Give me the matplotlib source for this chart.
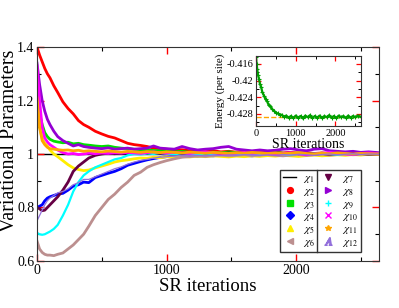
import numpy as np
import matplotlib.pyplot as plt
from matplotlib.lines import Line2D
from matplotlib.ticker import MultipleLocator

plt.rcParams['font.family'] = 'Liberation Serif'
plt.rcParams['mathtext.fontset'] = 'stix'

# SR iteration grid shared by all parameter curves
it = [0, 20, 40, 60, 80, 100, 130, 160, 200, 240, 280, 320, 360, 400,
      450, 500, 550, 600, 650, 700, 750, 800, 850, 900, 950, 1000,
      1060, 1120, 1180, 1240, 1300, 1360, 1420, 1480, 1540, 1600, 1660,
      1720, 1780, 1840, 1900, 1960, 2020, 2080, 2140, 2200, 2260, 2320,
      2380, 2440, 2500, 2560, 2640]

chi2 = [1.40, 1.37, 1.345, 1.32, 1.30, 1.285, 1.255, 1.23, 1.195, 1.17, 1.15, 1.125, 1.11, 1.10,
        1.085, 1.075, 1.066, 1.06, 1.05, 1.04, 1.035, 1.032, 1.028, 1.022, 1.02, 1.018,
        1.015, 1.016, 1.012, 1.013, 1.010, 1.012, 1.008, 1.010, 1.007, 1.009, 1.006,
        1.008, 1.005, 1.007, 1.004, 1.006, 1.003, 1.005, 1.002, 1.004, 1.001, 1.003,
        1.000, 1.002, 0.999, 1.001, 1.000]
chi3 = [1.20, 1.15, 1.11, 1.08, 1.065, 1.055, 1.048, 1.045, 1.042, 1.044, 1.038, 1.040, 1.035, 1.033,
        1.030, 1.028, 1.030, 1.025, 1.022, 1.020, 1.018, 1.016, 1.015, 1.013, 1.012, 1.010,
        1.008, 1.010, 1.006, 1.009, 1.005, 1.007, 1.004, 1.008, 1.005, 1.003, 1.006,
        1.004, 1.002, 1.005, 1.003, 1.001, 1.004, 1.002, 1.000, 1.003, 1.001, 0.999,
        1.002, 1.000, 1.001, 0.999, 1.000]
chi4 = [0.80, 0.805, 0.81, 0.825, 0.835, 0.84, 0.845, 0.85, 0.853, 0.865, 0.88, 0.885, 0.895, 0.893,
        0.912, 0.92, 0.928, 0.935, 0.945, 0.958, 0.965, 0.972, 0.978, 0.983, 0.987, 0.990,
        0.992, 0.990, 0.994, 0.992, 0.995, 0.993, 0.996, 0.994, 0.997, 0.995, 0.993,
        0.996, 0.998, 0.995, 0.997, 0.999, 0.996, 0.998, 1.000, 0.997, 0.999, 1.001,
        0.998, 1.000, 0.999, 1.001, 1.000]
chi5 = [1.26, 1.10, 1.06, 1.04, 1.03, 1.015, 1.00, 0.99, 0.975, 0.96, 0.948, 0.942, 0.938, 0.94,
        0.948, 0.955, 0.962, 0.97, 0.975, 0.978, 0.982, 0.985, 0.984, 0.988, 0.986, 0.990,
        0.988, 0.991, 0.989, 0.992, 0.990, 0.993, 0.991, 0.989, 0.992, 0.990, 0.993,
        0.991, 0.994, 0.992, 0.995, 0.993, 0.991, 0.994, 0.996, 0.993, 0.995, 0.997,
        0.995, 0.998, 0.996, 0.999, 0.998]
chi6 = [0.675, 0.645, 0.632, 0.625, 0.622, 0.622, 0.62, 0.625, 0.63, 0.645, 0.66, 0.68, 0.70, 0.73,
        0.77, 0.80, 0.83, 0.85, 0.875, 0.895, 0.92, 0.932, 0.95, 0.96, 0.968, 0.975,
        0.982, 0.988, 0.990, 0.993, 0.991, 0.994, 0.996, 0.993, 0.995, 0.997, 0.994,
        0.996, 0.998, 0.995, 0.993, 0.996, 0.998, 0.995, 0.997, 0.999, 0.996, 0.998,
        1.000, 0.997, 0.999, 1.000, 0.999]
chi7 = [0.80, 0.795, 0.788, 0.79, 0.80, 0.81, 0.825, 0.84, 0.865, 0.895, 0.935, 0.955, 0.97, 0.985,
        0.995, 1.000, 1.003, 1.001, 1.004, 1.002, 1.005, 1.003, 1.006, 1.004, 1.002, 1.005,
        1.003, 1.006, 1.004, 1.002, 1.005, 1.003, 1.001, 1.004, 1.002, 1.005, 1.003,
        1.001, 1.003, 1.000, 1.002, 1.004, 1.001, 1.003, 1.000, 1.002, 0.999, 1.001,
        1.003, 1.000, 1.002, 0.999, 1.001]
chi8 = [1.34, 1.26, 1.20, 1.16, 1.13, 1.11, 1.085, 1.065, 1.05, 1.04, 1.03, 1.035, 1.028, 1.025,
        1.022, 1.020, 1.023, 1.018, 1.020, 1.022, 1.018, 1.020, 1.022, 1.030, 1.022, 1.020,
        1.018, 1.028, 1.020, 1.015, 1.018, 1.020, 1.025, 1.028, 1.018, 1.015, 1.012,
        1.015, 1.012, 1.014, 1.018, 1.020, 1.015, 1.012, 1.018, 1.020, 1.012, 1.010,
        1.008, 1.010, 1.006, 1.008, 1.005]
chi9 = [0.705, 0.70, 0.698, 0.70, 0.705, 0.71, 0.72, 0.735, 0.77, 0.81, 0.86, 0.895, 0.92, 0.935,
        0.95, 0.96, 0.97, 0.98, 0.985, 0.995, 1.000, 0.998, 1.002, 1.000, 1.004, 1.001,
        0.999, 1.003, 1.001, 0.998, 1.002, 1.000, 1.004, 1.001, 0.999, 1.002, 1.000,
        0.997, 1.001, 1.003, 1.000, 0.998, 1.002, 0.999, 1.001, 1.003, 1.000, 0.998,
        1.001, 0.999, 1.002, 1.000, 1.001]
chi10 = [1.33, 1.20, 1.10, 1.06, 1.045, 1.035, 1.025, 1.015, 1.005, 1.000, 1.002, 0.998, 1.000, 1.003,
         1.001, 1.004, 1.002, 1.005, 1.003, 1.006, 1.004, 1.002, 1.005, 1.008, 1.005, 1.003,
         1.006, 1.004, 1.002, 1.005, 1.008, 1.004, 1.002, 1.000, 1.003, 1.006, 1.002,
         1.004, 1.001, 0.998, 1.002, 1.005, 1.001, 0.997, 1.000, 1.003, 1.006, 1.002,
         1.000, 0.998, 1.002, 1.004, 1.001]
chi11 = [1.21, 1.10, 1.05, 1.035, 1.025, 1.02, 1.018, 1.016, 1.014, 1.015, 1.012, 1.014, 1.010, 1.012,
         1.010, 1.008, 1.011, 1.009, 1.007, 1.010, 1.008, 1.006, 1.009, 1.007, 1.005, 1.008,
         1.006, 1.004, 1.007, 1.005, 1.003, 1.006, 1.004, 1.002, 1.005, 1.003, 1.006,
         1.004, 1.002, 1.004, 1.001, 1.003, 1.005, 1.002, 1.000, 1.003, 1.001, 1.004,
         1.002, 1.000, 1.002, 1.001, 1.000]
chi12 = [0.75, 0.77, 0.79, 0.81, 0.825, 0.835, 0.845, 0.855, 0.86, 0.87, 0.885, 0.893, 0.905, 0.905,
         0.915, 0.925, 0.935, 0.945, 0.952, 0.962, 0.97, 0.976, 0.98, 0.985, 0.988, 0.990,
         0.992, 0.994, 0.992, 0.995, 0.993, 0.996, 0.994, 0.997, 0.995, 0.998, 0.996,
         0.994, 0.997, 0.995, 0.998, 0.996, 0.999, 0.997, 0.995, 0.998, 1.000, 0.997,
         0.999, 1.001, 0.998, 1.000, 0.999]

series = [chi2, chi3, chi4, chi5, chi6, chi7, chi8, chi9, chi10, chi11, chi12]
colors = ['red', '#00e000', 'blue', '#ffee00', '#bc8f8f', '#660044',
          '#9400d3', 'cyan', '#ff00ff', '#ffa500', '#9370db']
markers = ['o', 's', 'D', '^', '<', 'v', '>', '+', 'x', '*', '$A$']
widths = [2.0, 2.0, 2.0, 2.0, 2.0, 2.0, 2.0, 1.6, 2.0, 2.0, 0.9]
labels = [r'$\chi_{%d}$' % k for k in range(1, 13)]

# inset: energy per site vs SR iterations
e_it = [0, 15, 30, 50, 75, 100, 130, 160, 200, 240, 280, 320, 360, 400, 450, 500, 550,
        600, 650, 700, 760, 820, 880, 940, 1000, 1060, 1120, 1180, 1240, 1300, 1360,
        1420, 1480, 1540, 1600, 1660, 1720, 1780, 1840, 1900, 1960, 2020, 2080, 2140,
        2200, 2260, 2320, 2380, 2440, 2500, 2560, 2640]
energy = [-0.4143, -0.4160, -0.4172, -0.4186, -0.4196, -0.4208, -0.4216, -0.4228, -0.4236,
          -0.4245, -0.4250, -0.4259, -0.4262, -0.4268, -0.4272, -0.4277, -0.4279,
          -0.4283, -0.4282, -0.4287, -0.4284, -0.4289, -0.4285, -0.4290, -0.4284,
          -0.4289, -0.4285, -0.4291, -0.4284, -0.4288, -0.4283, -0.4290, -0.4285,
          -0.4289, -0.4284, -0.4290, -0.4285, -0.4288, -0.4283, -0.4289, -0.4285,
          -0.4290, -0.4284, -0.4288, -0.4285, -0.4290, -0.4284, -0.4289, -0.4285,
          -0.4288, -0.4284, -0.4287]
e_exact = -0.4287

fig = plt.figure(figsize=(3.99, 3.08), dpi=100)
ax = fig.add_axes([0.0927, 0.1526, 0.857, 0.6948])

ax.plot([0, 2640], [1.0, 1.0], color='black', lw=1.0, zorder=1)
for y, c, w in zip(series, colors, widths):
    ax.plot(it, y, color=c, lw=w)

ax.set_xlim(0, 2640)
ax.set_ylim(0.6, 1.4)
ax.set_xticks([0, 1000, 2000])
ax.set_xticklabels(['0', '1000', '2000'])
ax.set_yticks([0.6, 0.8, 1.0, 1.2, 1.4])
ax.set_yticklabels(['0.6', '0.8', '1', '1.2', '1.4'])
ax.xaxis.set_minor_locator(MultipleLocator(500))
ax.yaxis.set_minor_locator(MultipleLocator(0.1))
ax.tick_params(which='both', direction='in', top=True, right=True, labelsize=10, pad=2)
ax.tick_params(which='major', length=5, color='red', width=1)
ax.tick_params(which='minor', length=3, color='black', width=0.8)
for s in ax.spines.values():
    s.set_color('#333333')
ax.set_xlabel('SR iterations', fontsize=13.5, labelpad=1)
ax.set_ylabel('Variational Parameters', fontsize=14.5)
# label anchor is the text's bottom edge (rotated), so keep it right of the glyphs
ax.yaxis.set_label_coords(-0.054, 0.56)

handles = [Line2D([], [], color='black', lw=1.0)]
for c, m in zip(colors, markers):
    ms = 5.5 if m == '$A$' else 4.2
    handles.append(Line2D([], [], color=c, marker=m, ls='none', ms=ms, mew=1.0))
leg = ax.legend(handles, labels, ncol=2, loc='lower right',
                bbox_to_anchor=(0.947, 0.042), fontsize=8, frameon=True,
                fancybox=False, framealpha=1, edgecolor='#333333',
                labelspacing=0.08, handlelength=1.2, handletextpad=0.6,
                borderpad=0.3, columnspacing=0.6, borderaxespad=0)
leg.get_frame().set_linewidth(1.0)

# vertical rule between the two legend columns
fig.canvas.draw()
texts = leg.get_texts()
right1 = max(t.get_window_extent().x1 for t in texts[:6])
lbox = leg.get_window_extent()
xs = ax.transAxes.inverted().transform([(right1 + 2, lbox.y0), (right1 + 2, lbox.y1)])
ax.plot(xs[:, 0], xs[:, 1], transform=ax.transAxes, color='#333333', lw=1.0, zorder=10)

ins = fig.add_axes([0.6416, 0.591, 0.263, 0.227])
ins.plot([0, 2640], [e_exact, e_exact], color='orange', lw=1.0, ls='--', zorder=1)
ins.plot(e_it, energy, color='#00a000', lw=1.6, marker='+', ms=3, mew=0.8)
ins.set_xlim(0, 2640)
ins.set_ylim(-0.4309, -0.4141)
ins.set_xticks([0, 1000, 2000])
ins.set_yticks([-0.428, -0.424, -0.42, -0.416])
ins.set_yticklabels(['-0.428', '-0.424', '-0.42', '-0.416'])
ins.xaxis.set_minor_locator(MultipleLocator(500))
ins.yaxis.set_minor_locator(MultipleLocator(0.002))
ins.tick_params(which='both', direction='in', top=True, right=True, labelsize=7.5, pad=2)
ins.tick_params(which='major', length=3.5, color='red', width=0.9)
ins.tick_params(which='minor', length=2, color='black', width=0.7)
for s in ins.spines.values():
    s.set_color('#333333')
ins.set_xlabel('SR iterations', fontsize=10, labelpad=0)
ins.set_ylabel('Energy (per site)', fontsize=8, labelpad=1)

fig.savefig('out.png', dpi=100)
